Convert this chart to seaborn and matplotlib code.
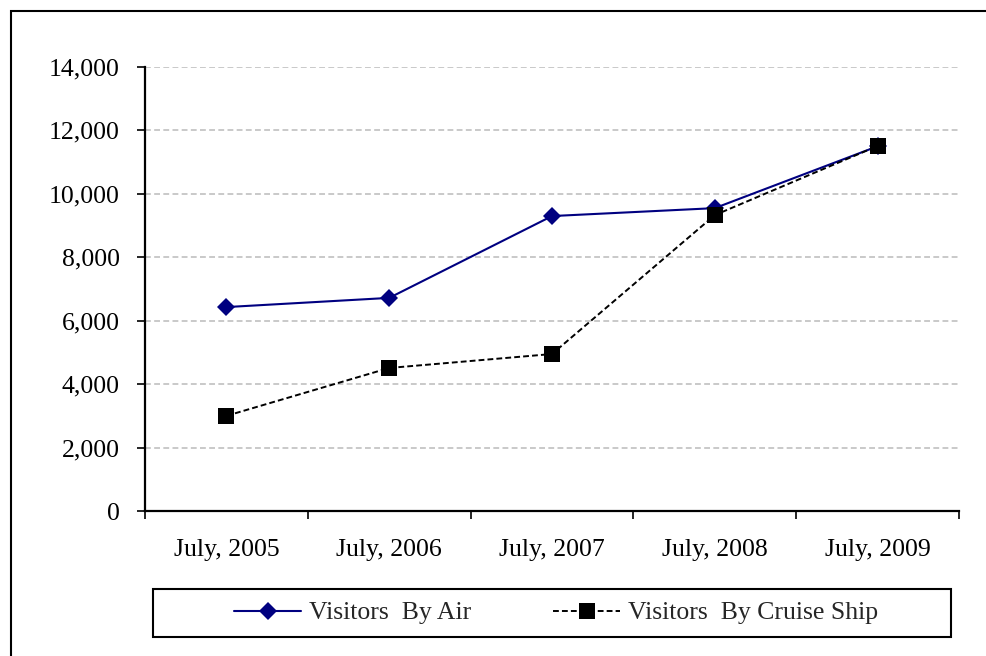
import matplotlib

matplotlib.use("Agg")

import matplotlib.pyplot as plt
import matplotlib.ticker as mticker
import pandas as pd
import seaborn as sns
from matplotlib.patches import Rectangle

months = ["July, 2005", "July, 2006", "July, 2007", "July, 2008", "July, 2009"]
visitors_air = [6430, 6720, 9300, 9550, 11500]
visitors_cruise = [3000, 4510, 4950, 9330, 11510]
y_ticks = [0, 2000, 4000, 6000, 8000, 10000, 12000, 14000]

frame = pd.DataFrame({"month": months, "air": visitors_air, "cruise": visitors_cruise})

sns.set_theme(style="white")
plt.rcParams["font.family"] = ["Liberation Serif", "DejaVu Serif"]

fig = plt.figure(figsize=(9.86, 6.56), dpi=100)
W, H = 986, 656
ax = fig.add_axes([145 / W, 145 / H, 814 / W, 444 / H])

sns.lineplot(data=frame, x="month", y="air", ax=ax, color="#000080", linewidth=1.5,
             marker="D", markersize=9, markeredgewidth=0, label="Visitors  By Air",
             sort=False)
sns.lineplot(data=frame, x="month", y="cruise", ax=ax, color="black", linewidth=1.4,
             linestyle=(0, (3, 1.6)), marker="s", markersize=11.5, markeredgewidth=0,
             label="Visitors  By Cruise Ship", sort=False)

ax.set_xlim(-0.5, len(months) - 0.5)
ax.set_ylim(0, 14000)
ax.set_yticks(y_ticks)
ax.yaxis.set_major_formatter(mticker.StrMethodFormatter("{x:,.0f}"))
ax.set_xlabel("")
ax.set_ylabel("")

# category boundaries carry the tick marks, labels sit between them
ax.set_xticks(range(len(months)))
ax.set_xticklabels(months)
ax.set_xticks([i - 0.5 for i in range(len(months) + 1)], minor=True)
ax.tick_params(axis="x", which="major", length=0, pad=20, labelsize=18.5, colors="black")
ax.tick_params(axis="x", which="minor", direction="out", length=6, width=1.2,
               color="black", bottom=True)
ax.tick_params(axis="y", direction="out", length=6, width=1.2, pad=12,
               labelsize=18.5, colors="black", left=True)

ax.yaxis.grid(True, color="#c0c0c0", linestyle=(0, (3.5, 2)), linewidth=1.2)
ax.xaxis.grid(False)
for side in ["top", "right"]:
    ax.spines[side].set_visible(False)
for side in ["left", "bottom"]:
    ax.spines[side].set_color("black")
    ax.spines[side].set_linewidth(1.6)

handles, labels = ax.get_legend_handles_labels()
ax.get_legend().remove()
fig.legend(handles, labels, loc="center", bbox_to_anchor=(556 / W, 1 - 613 / H),
           ncol=2, frameon=False, fontsize=18.5, handlelength=2.6, handletextpad=0.3,
           columnspacing=3.2)

fig.patches.append(Rectangle((153, H - 637), 798, 48, transform=None, fill=False,
                             edgecolor="black", linewidth=1.5))
fig.patches.append(Rectangle((11, -20), 1100, H - 11 + 20, transform=None, fill=False,
                             edgecolor="black", linewidth=1.5))

fig.savefig("out.png", dpi=100)
